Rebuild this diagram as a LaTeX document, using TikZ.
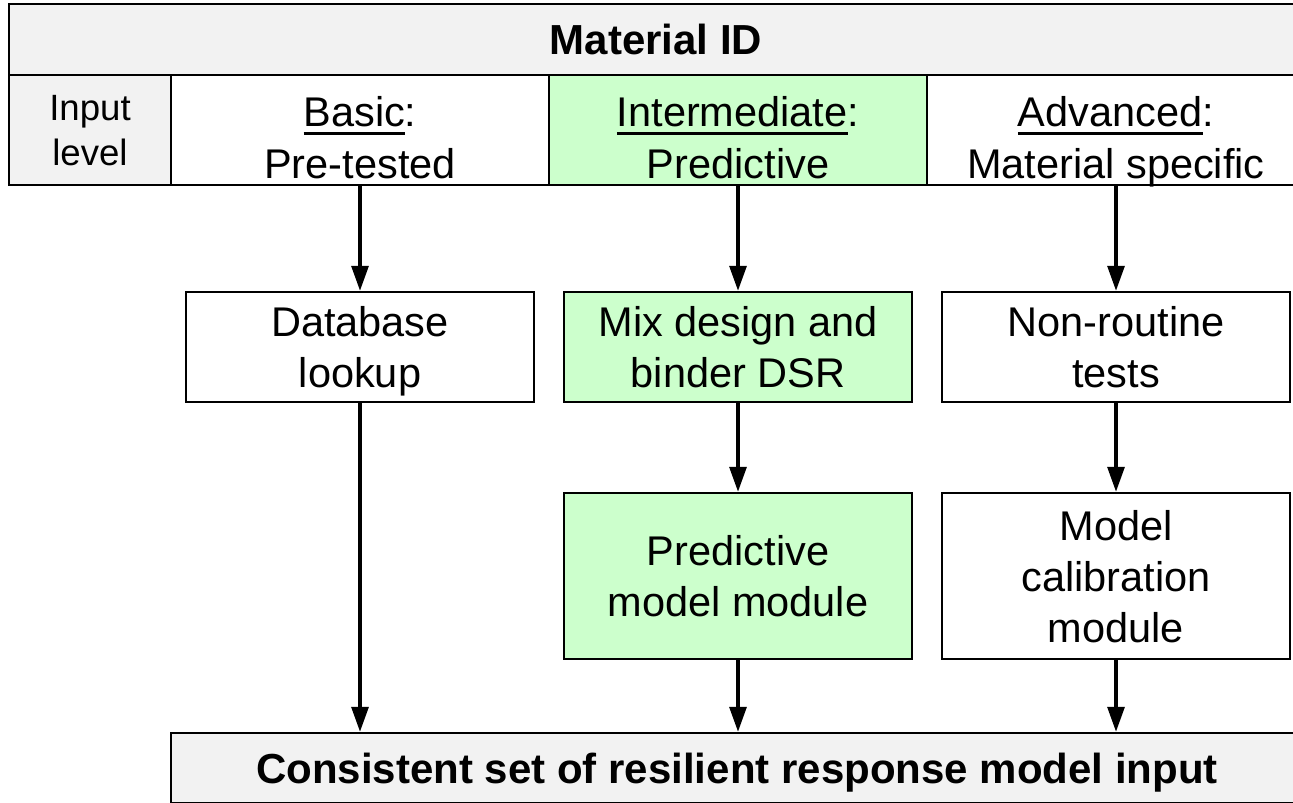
\documentclass[tikz,border=0pt]{standalone}
\usepackage{fontspec}
\setmainfont{Liberation Sans}
\usetikzlibrary{arrows.meta}
\definecolor{hdrgray}{HTML}{F2F2F2}
\definecolor{lgreen}{HTML}{CCFFCC}
\newcommand{\myul}[1]{\setbox0\hbox{#1}\rlap{\rule[-3.75pt]{\wd0}{1.4pt}}\box0}
\tikzset{
  box/.style={draw=black, line width=1.25pt, inner sep=0pt, align=center,
    font=\fontsize{20.75}{25.5}\selectfont},
  twoline/.style={text height=40.5pt, text depth=0pt},
  threeline/.style={text height=66pt, text depth=0pt},
  rowline/.style={text height=48pt, text depth=0pt},
  boldline/.style={font=\bfseries\fontsize{21}{25}\selectfont, text height=15pt, text depth=0pt},
  flow/.style={-{Triangle[length=12.5pt,width=8.5pt]}, line width=1.6pt},
}
\begin{document}
\begin{tikzpicture}[x=0.5pt,y=-0.5pt]
\useasboundingbox (0,0) rectangle (1293,802);
\clip (0,0) rectangle (1293,802);
% header
\node[box, boldline, fill=hdrgray, minimum width=647pt, minimum height=35.5pt] (mat) at (656,39.5) {Material ID};
% input level row
\node[box, fill=hdrgray, minimum width=81pt, minimum height=55pt,
  font=\fontsize{18.3}{22.5}\selectfont, text height=35.6pt, text depth=0pt] (inp) at (90,130) {Input\\level};
\node[box, rowline, fill=white, minimum width=189pt, minimum height=55pt] (basic) at (360,130) {\myul{Basic}:\\Pre-tested};
\node[box, rowline, fill=lgreen, minimum width=189pt, minimum height=55pt] (inter) at (738,130) {\myul{Intermediate}:\\Predictive};
\node[box, rowline, fill=white, minimum width=189pt, minimum height=55pt] (adv) at (1116,130) {\myul{Advanced}:\\Material specific};
% second level
\node[box, twoline, fill=white, minimum width=174pt, minimum height=55pt] (db) at (360,347) {Database\\lookup};
\node[box, twoline, fill=lgreen, minimum width=174pt, minimum height=55pt] (mix) at (738,347) {Mix design and\\binder DSR};
\node[box, twoline, fill=white, minimum width=174pt, minimum height=55pt] (nonr) at (1116,347) {Non-routine\\tests};
% third level
\node[box, twoline, fill=lgreen, minimum width=174pt, minimum height=83pt] (pred) at (738,576) {Predictive\\model module};
\node[box, threeline, fill=white, minimum width=174pt, minimum height=83pt] (calib) at (1116,576) {Model\\calibration\\module};
% output
\node[box, boldline, fill=hdrgray, minimum width=566pt, minimum height=35pt] (out) at (737,768) {Consistent set of resilient response model input};
% connectors
\draw[flow] (basic.south) -- (db.north);
\draw[flow] (inter.south) -- (mix.north);
\draw[flow] (adv.south) -- (nonr.north);
\draw[flow] (db.south) -- (db.south |- out.north);
\draw[flow] (mix.south) -- (pred.north);
\draw[flow] (pred.south) -- (pred.south |- out.north);
\draw[flow] (nonr.south) -- (calib.north);
\draw[flow] (calib.south) -- (calib.south |- out.north);
\end{tikzpicture}
\end{document}
